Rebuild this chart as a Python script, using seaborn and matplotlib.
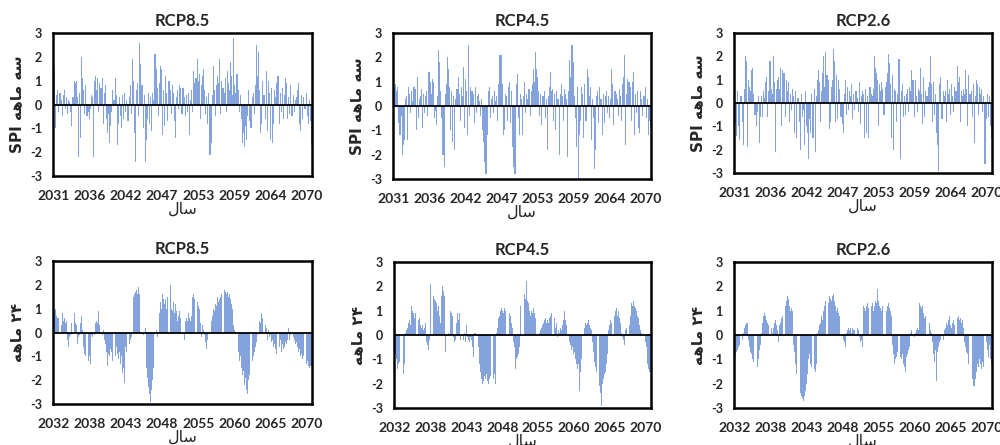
import numpy as np
import pandas as pd
import matplotlib
matplotlib.use("Agg")
import matplotlib.pyplot as plt
import seaborn as sns

sns.set_theme(style="white")
plt.rcParams['font.family'] = ['Lato', 'DejaVu Sans']

titles = ["RCP8.5", "RCP4.5", "RCP2.6"]
top_xticklabels = ["2031", "2036", "2042", "2047", "2053", "2059", "2064", "2070"]
bot_xticklabels = ["2032", "2038", "2043", "2048", "2055", "2060", "2065", "2070"]
yticks = [-3, -2, -1, 0, 1, 2, 3]

spi3_rcp85 = [
    0.8, 1.5, -1.0, 0.4, 0.6, -0.3, 0.5, 0.2, -0.5, 0.4, 0.6, -0.2, 0.3, -0.4, 0.2, 0.1, -0.3, -0.9, 0.3, 1.0,
    0.9, 1.0, 0.3, -2.2, 0.5, -1.4, 2.0, 1.1, 0.6, -0.4, 0.8, -0.5, -0.3, -0.6, -0.2, 0.4, 0.3, -2.2, 1.0, 1.2,
    0.6, 1.1, -0.3, 0.9, 0.7, 1.1, -0.8, 0.5, 0.8, -0.6, -1.2, -0.4, -1.6, -0.9, -0.3, 0.6, 0.2, 1.1, 0.4, -1.7,
    -0.8, 0.3, -0.5, -1.0, 0.4, -0.6, 0.5, -0.3, 0.2, -0.7, 0.3, 0.8, -0.4, 1.9, 1.0, -1.2, -2.4, 0.6, 0.9, -0.5,
    2.6, 1.7, 0.8, -1.0, 0.4, -2.4, -1.5, -0.6, 0.5, -0.8, 0.3, -1.1, 0.5, 0.2, 2.1, 1.5, 0.7, -0.5, 0.9, 1.6,
    1.5, -1.3, 0.6, -0.9, 1.2, 0.5, -0.7, 1.0, 0.6, -0.4, 0.8, 0.5, -0.7, -1.4, 0.3, 0.6, -0.2, 0.8, 0.7, -0.4,
    0.7, 0.3, -0.5, 0.4, -0.3, 0.5, -1.3, 0.2, 0.6, -0.3, 1.4, 0.9, 1.1, 1.9, 1.0, 1.3, -0.6, 0.8, 1.2, 1.5,
    0.6, -0.4, 0.3, -0.8, 0.5, -2.1, -1.6, 0.4, 1.6, 0.6, -0.5, 0.8, 1.2, 0.9, 1.9, -0.4, 1.0, 0.7, 0.5, 1.1,
    -0.3, 1.4, 0.9, 0.6, 1.8, 1.2, 0.4, 2.8, 0.8, 0.5, 1.3, 0.6, -0.3, 0.4, -0.6, -1.6, -1.2, -1.8, -0.9, -1.5,
    -0.5, 0.6, -0.7, -1.0, 0.3, 0.5, -0.4, 0.8, 2.5, 1.2, 2.2, 0.6, -1.2, -0.8, 1.0, 0.4, -0.6, 1.4, -1.1, 1.0,
    0.5, -1.5, 0.7, -1.6, -0.8, 0.6, 0.3, 0.9, 1.2, -0.8, 0.5, -0.3, 0.7, -0.6, 0.4, 1.1, 0.9, -0.6, 0.3, -0.4,
    0.8, -0.5, 0.4, -0.3, 0.2, 0.3, 0.6, 0.9, -0.8, -1.1, 0.4, -0.6, 0.3, -0.2, 0.5, -0.5, -0.8, 0.2, -0.7, -1.7,
]

spi3_rcp45 = [
    1.4, 0.8, 0.9, 0.6, 0.8, -0.7, -1.2, -0.4, -2.0, -1.6, -1.4, 0.3, 0.4, -1.4, 0.8, 0.5, -0.3, 0.6, 0.2, 0.8,
    0.7, -1.0, 1.2, -0.5, 0.3, 0.4, 0.7, -0.9, 0.5, -0.3, 0.4, 0.6, -0.4, 1.4, 1.0, 0.5, 1.1, 1.0, -0.5, -0.2,
    -0.8, 0.4, 2.3, 1.8, 0.6, -0.5, -2.0, -2.5, 0.5, 0.9, 2.0, 1.5, 0.8, -1.0, 0.6, -1.5, 0.4, -1.8, 0.3, 0.7,
    1.2, 0.5, -0.6, 0.8, 0.4, 1.6, -0.9, 1.1, 0.6, -1.2, 2.5, -0.4, 0.8, 0.6, 0.5, -0.7, 0.8, -0.3, 0.4, 0.5,
    0.2, -0.4, 0.3, -1.0, -1.5, -2.3, -2.8, -1.2, 0.6, 0.8, -0.5, 0.3, 0.4, -0.3, 0.6, 0.2, 0.4, -0.6, 0.9, 2.1,
    2.1, 0.9, -1.2, -1.0, 0.5, 0.4, -0.6, 0.8, 1.0, -0.7, 0.6, -1.7, -2.5, -2.8, 0.9, 1.3, -0.5, -1.2, 0.5, 0.3,
    -1.2, 0.4, 1.0, -0.3, 0.5, 0.3, 0.7, -0.4, 0.6, 0.9, 1.5, 1.0, 2.2, 1.5, 1.2, 0.6, -0.4, 0.5, -0.8, 0.4,
    0.6, -0.5, 0.3, -1.8, 0.4, 0.8, 1.4, 0.6, 0.7, -0.6, 0.5, -1.0, 0.6, 0.3, -2.0, 0.5, 0.9, 0.4, -0.6, 0.7,
    0.5, 0.3, -2.1, 0.6, 1.9, 1.2, 2.5, 1.8, 0.4, -0.5, -1.7, 0.8, -3.0, -1.2, -0.6, 0.8, 0.5, -1.3, 0.9, -0.6,
    1.5, 1.2, 0.4, 0.8, -1.4, 0.3, -0.5, -2.6, -1.8, 0.4, 0.6, -0.7, 0.8, 0.3, -1.2, 0.5, -0.7, 0.4, 0.6, -0.3,
    0.4, -0.5, 0.3, 1.5, 0.9, -0.8, 0.6, 0.5, 0.3, -0.4, 0.7, 0.4, -0.6, 0.9, 1.2, 2.1, -1.6, 0.5, 1.1, 1.0,
    0.8, -0.6, 1.0, 1.4, -1.2, 0.5, -0.3, 0.6, -0.9, -1.1, 0.6, 0.3, -0.4, 0.4, 0.8, -0.5, 0.3, -1.2, -0.6, -0.9,
]

spi3_rcp26 = [
    0.8, -0.9, -1.4, 0.5, -1.0, -1.6, 0.3, -0.8, -1.8, 0.6, 2.0, 1.8, -1.9, 1.0, 0.7, 0.5, 1.4, 1.5, 0.4, -0.5,
    -1.0, -0.4, 0.3, -1.7, -0.6, 0.3, -0.6, 0.5, 0.2, 0.9, 1.1, -0.6, 0.5, 1.8, 0.6, 0.4, 2.0, 0.9, -2.1, 0.6,
    1.0, 1.1, 0.6, 1.5, -1.0, 1.4, 1.3, -0.6, 1.0, 0.5, 0.9, -0.8, 0.4, -0.3, 0.6, 0.3, -1.3, 0.5, -1.5, 0.2,
    -0.8, -2.0, 0.4, -0.6, -0.3, -1.8, 0.5, -1.0, -1.3, -2.4, -0.7, -1.3, 0.4, -1.5, 0.6, -2.1, 0.3, 1.0, 1.4, 0.9,
    -0.8, 0.5, 1.3, 2.0, 0.7, 2.2, 1.2, 1.0, -1.1, -0.8, 0.7, 1.0, 2.3, 1.8, -0.8, 1.2, -0.7, 1.0, 0.6, -0.6,
    -0.9, -1.3, 0.4, 1.0, -0.5, 0.7, -0.3, 0.5, 0.3, 0.8, -0.7, 0.4, -0.3, 0.5, 0.2, -0.4, 0.9, -0.9, 0.3, 0.5,
    0.4, -1.5, 0.6, -1.3, 0.3, -1.5, 0.7, 0.4, 0.3, 0.6, 2.0, 1.5, 1.3, 1.0, -1.0, 0.8, 0.5, 0.9, 0.6, -0.5,
    0.7, 0.9, 1.3, 2.1, 1.7, 0.8, -1.5, 1.2, -2.0, 0.6, 0.5, -0.8, 0.4, 1.9, -2.4, 0.5, 0.8, -0.6, 0.3, -0.5,
    0.4, 0.6, -0.4, 0.7, 0.5, 1.4, 1.0, -0.6, 1.0, 0.3, -0.4, 0.6, 0.5, 1.5, 0.4, -0.9, 1.1, -0.6, 0.5, 0.3,
    0.7, 0.9, 2.0, 0.8, -0.8, 0.9, -0.5, 0.4, -1.3, -1.8, -2.9, 0.8, 1.1, -0.7, 0.5, 0.3, 0.5, -0.8, 1.0, 0.4,
    0.6, -0.5, 0.8, 0.3, -0.4, 0.7, 0.5, 1.6, 0.9, 1.1, -0.8, 0.5, 0.3, 0.6, 0.4, 1.4, 0.6, -1.0, 1.2, 0.4,
    0.5, -0.6, 0.8, -1.7, 0.3, 1.0, 0.8, -0.5, 0.7, 0.4, 0.6, -0.4, 0.3, -2.6, -0.7, 0.4, -0.6, 0.3, -1.0, -1.5,
]

spi24_rcp85 = [
    0.7, 0.9, 1.0, 0.7, 0.6, 0.6, -0.5, 0.3, 0.8, 0.5, 0.6, 0.4, 0.5, -0.3, -0.6, -0.2, -0.1, 0.4, 0.5, 0.8,
    0.4, 0.3, -0.5, -0.2, -0.1, 0.4, 0.7, 0.1, -0.6, -0.9, -1.0, -1.1, -1.2, -1.0, -1.3, -0.1, -0.2, 0.0, -0.1, 0.4,
    0.5, 0.4, 0.9, 0.3, 0.2, -0.1, 0.1, -0.3, -0.5, -0.8, -1.4, -0.9, -1.0, -0.7, -0.8, -1.2, -1.4, -1.0, -0.6, -0.9,
    -1.1, -0.8, -1.3, -1.0, -1.7, -1.5, -2.1, -0.6, -0.8, -0.4, -0.5, -0.3, -0.2, 0.0, 1.5, 1.6, 1.7, 1.8, 1.6, 1.9,
    1.6, 0.0, -0.2, -0.1, 0.0, 0.2, -1.5, -1.9, -2.3, -2.6, -2.9, -2.4, -2.0, -1.5, 0.2, 0.1, -0.2, 0.0, 0.8, 1.3,
    1.0, 1.6, 1.4, 1.2, 1.4, 1.0, 1.5, 1.3, 2.0, 1.0, 0.9, 1.3, 0.8, 1.2, 0.9, 0.5, 0.7, 0.9, 0.6, 0.4,
    0.3, -0.3, 0.5, 0.6, 0.5, 0.8, 0.6, 0.5, 0.7, 1.5, 1.6, 1.4, 1.5, 1.3, 1.1, 1.0, 0.4, -0.2, 0.3, 0.1,
    -0.1, -0.4, -0.7, -0.3, 0.0, 0.3, 0.5, 0.7, 1.0, 0.9, 1.2, 1.1, 1.5, 1.3, 1.4, 1.5, 1.6, 1.4, 1.8, 1.7,
    1.6, 1.7, 1.5, 1.6, 1.4, 1.2, 1.0, 0.3, 0.1, 0.0, -0.5, -0.8, -1.2, -1.0, -1.5, -1.8, -1.6, -2.2, -1.9, -2.4,
    -2.6, -2.0, -1.8, -1.4, -1.2, -1.0, -0.8, -0.6, -0.4, -0.1, 0.0, 0.5, 0.4, 0.8, 0.6, 0.4, 0.3, 0.2, -0.3, 0.1,
    -0.2, -0.1, -0.4, -0.3, -0.6, -0.5, -0.7, -0.9, -0.5, -0.6, -0.3, -0.8, -0.5, -0.7, -0.6, -0.4, -0.5, -0.3, 0.2, -0.3,
    -0.1, -0.4, -0.2, -0.3, -0.5, -0.4, -0.6, -0.8, -0.7, -1.0, -0.9, -1.1, -1.0, -1.2, -1.3, -1.2, -1.4, -1.5, -1.4, -1.4,
]

spi24_rcp45 = [
    -0.4, -0.8, -1.0, -1.4, -1.2, -1.1, -1.3, -1.0, -1.6, -1.2, 0.1, 0.2, 0.3, 0.5, 0.6, 0.4, 1.2, 1.0, 0.9, 0.7,
    0.9, 1.0, 0.6, 0.7, 0.4, 0.3, 0.4, 0.2, 0.3, 0.5, -0.3, -0.4, -0.6, -0.2, 2.1, 1.8, 1.6, 1.5, 1.4, 1.3,
    1.0, 1.2, 0.8, 0.5, 1.6, 2.0, 1.8, 1.6, -0.7, -0.1, 0.1, 0.0, 1.0, 0.9, 0.8, -0.1, -0.3, -0.2, 0.5, 0.9,
    0.6, 0.9, -0.2, -0.4, -0.2, 0.1, -0.3, 0.4, -0.1, -0.2, -0.3, -0.1, -0.2, -0.5, -0.9, 0.1, 0.1, 0.0, -0.5, -1.2,
    -1.5, -1.8, -2.0, -1.9, -1.7, -1.8, -1.6, -1.9, -2.0, -1.8, -1.7, -2.0, -1.8, -1.6, -2.0, 0.1, 0.3, 0.7, 0.8, 1.0,
    1.1, 1.0, 0.9, 1.1, 1.0, 0.8, 1.0, 0.9, 0.8, 0.5, 0.3, -0.3, -0.5, -1.4, -1.0, -0.9, -0.8, -0.5, 1.2, 1.5,
    1.4, 1.7, 1.5, 2.2, 1.4, 1.3, 1.0, 0.8, 1.0, 0.9, 1.1, 0.9, 0.7, 0.4, -0.8, 0.1, 0.2, 0.3, 0.4, 0.5,
    0.6, 0.7, 0.5, 0.6, 0.5, 0.7, 0.8, 0.9, 0.5, 0.7, 0.3, 0.5, -0.1, 0.2, 0.1, 0.3, 0.2, 0.4, 0.6, 1.0,
    0.6, 0.4, -0.2, -0.3, -0.4, -0.6, -0.5, -0.8, -0.7, -1.0, -1.2, -1.4, -1.2, -2.3, -1.5, -1.0, 0.1, 0.3, 0.5, 0.4,
    0.5, 0.6, 0.4, 0.3, 0.2, -0.3, -0.7, -1.1, -1.3, -1.5, -1.8, -2.1, -2.4, -2.9, -2.0, -1.8, -1.6, -1.5, -1.2, -0.8,
    0.2, 0.4, 0.6, 0.5, 0.9, 0.8, 1.0, 1.1, 0.8, 1.0, 0.7, 0.5, 0.1, -0.1, -0.2, -0.4, 0.2, 0.3, 0.5, 0.4,
    0.8, 1.3, 1.2, 1.4, 1.2, 1.1, 1.0, 0.8, 0.7, 0.4, 0.2, 0.1, 0.2, -0.1, -0.3, -0.5, -1.2, -1.4, -1.5, -1.5,
]

spi24_rcp26 = [
    -1.3, -0.9, -0.7, -0.6, -0.5, -0.4, -0.3, -0.2, 0.1, 0.3, 0.4, 0.5, 0.5, -0.2, -0.5, -0.7, -0.8, -1.0, -1.1, -1.2,
    -1.1, -1.3, -1.0, -0.6, -0.4, 0.1, 0.5, 0.8, 0.9, 0.8, 0.6, 0.5, 0.4, 0.7, 0.3, 0.1, 0.3, 0.5, 0.6, 0.4,
    0.2, -0.3, 0.4, 0.5, 0.7, 0.8, 1.0, 1.2, 1.4, 1.6, 1.5, 1.2, 1.0, 1.1, 1.0, -0.4, -0.7, -1.2, -1.6, -1.8,
    -2.1, -2.4, -2.5, -2.6, -2.7, -2.5, -2.3, -2.0, -1.6, -1.0, -0.8, -1.2, -1.3, -1.0, -1.4, -1.5, -1.2, 0.1, 0.2, 0.4,
    0.5, 0.8, 0.6, 1.0, 1.2, 1.4, 1.5, 1.3, 1.6, 1.5, 1.4, 1.6, 1.7, 1.4, 1.2, 1.0, 1.1, 0.9, 0.8, 0.6,
    0.7, -0.2, -0.3, -0.5, 0.1, 0.2, 0.3, 0.2, 0.3, 0.1, 0.3, 0.2, 0.2, 0.1, 0.3, 0.2, -0.1, -0.3, -0.2, -0.5,
    1.2, 1.1, 1.0, 1.2, 1.3, 1.1, 1.5, 1.2, 1.3, 1.0, 1.2, 1.4, 1.3, 1.9, 1.4, 1.2, 1.1, 1.0, 1.2, 0.9,
    1.1, 1.0, 1.2, 1.3, 1.1, 1.0, 0.8, -0.4, -0.8, -1.2, -1.0, -0.9, -0.7, -1.1, -0.9, -1.0, -0.8, -1.2, -1.3, -1.5,
    -0.9, -0.8, -0.6, -0.5, 0.1, 0.2, 0.3, -0.1, 0.1, 0.2, 0.3, 0.2, 1.3, 1.2, 1.1, 1.2, 0.9, 0.7, 0.8, 0.5,
    0.6, 0.5, 0.2, 0.1, -0.3, -0.8, -1.1, -0.6, -1.9, -0.7, -0.5, -0.3, -0.2, -0.4, -0.2, 0.2, 0.3, 0.5, 0.4, 0.6,
    0.8, 0.4, 0.3, 0.5, 0.6, 0.4, -0.3, 0.7, 0.8, 0.6, 0.7, 0.5, 0.6, 0.3, -0.3, -0.5, -0.7, -0.8, -1.2, -1.6,
    -2.0, -1.8, -2.1, -2.1, -1.8, -1.5, -1.2, -1.3, -1.0, -1.2, -1.4, -1.1, -1.3, -0.5, -0.3, -0.6, -0.9, -0.4, -1.0, -1.2,
]

# Persian labels in visual order with Arabic presentation forms
xlabel_fa = "\uFEDD\uFE8E\uFEB3"                          # سال
ylabel_top = "SPI \uFEEA\uFEEB\uFE8E\uFEE3 \uFEEA\uFEB3"   # SPI سه ماهه
ylabel_bot = "\uFEEA\uFEEB\uFE8E\uFEE3 \u06F2\u06F4"       # ۲۴ ماهه

fig = plt.figure(figsize=(10, 4.45), dpi=100)

# axes boxes [left, bottom, width, height] in figure fraction
boxes = [
    [0.053, 0.6045, 0.259, 0.3213],
    [0.393, 0.5978, 0.258, 0.3281],
    [0.734, 0.6112, 0.258, 0.3146],
    [0.053, 0.0921, 0.259, 0.3213],
    [0.394, 0.0831, 0.257, 0.3281],
    [0.734, 0.0831, 0.258, 0.3281],
]

series = [spi3_rcp85, spi3_rcp45, spi3_rcp26, spi24_rcp85, spi24_rcp45, spi24_rcp26]
bar_color = "#84a2dc"

for k, (box, vals) in enumerate(zip(boxes, series)):
    ax = fig.add_axes(box)
    n = len(vals)
    df = pd.DataFrame({"i": np.arange(n), "v": vals})
    sns.barplot(data=df, x="i", y="v", ax=ax, color=bar_color,
                width=1.0 if k < 3 else 0.85,
                linewidth=0, native_scale=True, errorbar=None, saturation=1)
    ax.axhline(0, color="black", lw=1.3, zorder=5)
    ax.set_xlim(-0.5, n - 0.5)
    ax.set_ylim(-3, 3)
    ax.set_yticks(yticks)
    ax.set_yticklabels([str(t) for t in yticks], fontsize=9, fontweight="bold",
                       family=["Lato", "DejaVu Sans"])
    step = n * 67 / 480
    labels = top_xticklabels if k < 3 else bot_xticklabels
    ax.set_xticks([i * step for i in range(len(labels))])
    ax.set_xticklabels(labels, fontsize=10, fontweight="bold", family=["Lato", "DejaVu Sans"])
    ax.tick_params(axis="x", length=0, pad=10)
    ax.tick_params(axis="y", length=0, pad=8)
    for s in ax.spines.values():
        s.set_visible(True)
        s.set_color("black")
        s.set_linewidth(1.8)
    ax.set_title(titles[k % 3], fontsize=12, fontweight="bold", pad=5,
                 family=["Lato", "DejaVu Sans"])
    ax.set_xlabel(xlabel_fa, fontsize=11.5, family=["DejaVu Sans"], labelpad=0)
    ax.set_ylabel(ylabel_top if k < 3 else ylabel_bot, fontsize=11, fontweight="bold",
                  family=["DejaVu Sans"], labelpad=4)

fig.savefig("out.png", dpi=100)
